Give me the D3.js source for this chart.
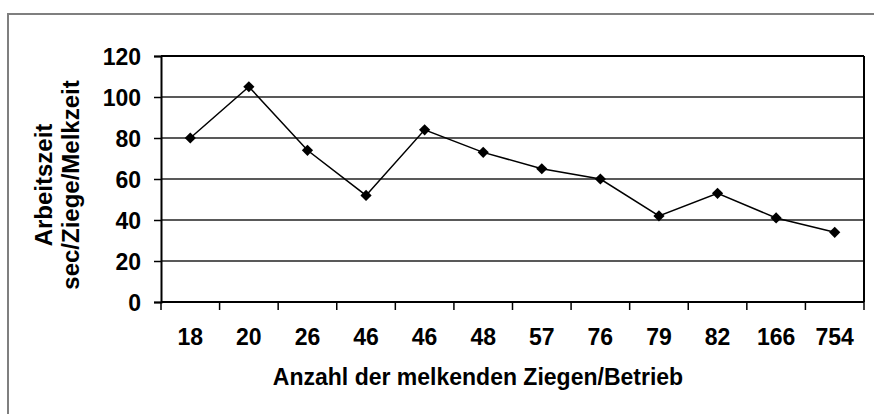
<!DOCTYPE html>
<html>
<head>
<meta charset="utf-8">
<script src="https://cdn.jsdelivr.net/npm/d3@7"></script>
<style>
  body { margin: 0; background: #fff; }
  text { font-family: "Liberation Sans", Arial, sans-serif; font-weight: bold; fill: #000; }
</style>
</head>
<body>
<div id="chart"></div>
<script>
// Chart data
var herdSizes = ["18", "20", "26", "46", "46", "48", "57", "76", "79", "82", "166", "754"];
var workTime = [80, 105, 74, 52, 84, 73, 65, 60, 42, 53, 41, 34];
var yTicks = [0, 20, 40, 60, 80, 100, 120];

var svgWidth = 874;
var svgHeight = 414;

var margins = { top: 56, right: 10, bottom: 112, left: 161 };
var plotRight = 864;

var svg = d3.select("#chart")
            .append("svg")
            .attr("width", svgWidth)
            .attr("height", svgHeight);

// Outer chart frame (only top and left edges are visible)
svg.append("rect")
   .attr("x", 8)
   .attr("y", 14)
   .attr("width", 1000)
   .attr("height", 1000)
   .attr("fill", "none")
   .attr("stroke", "#7f7f7f")
   .attr("stroke-width", 2);

var xScale = d3.scaleBand()
    .domain(d3.range(herdSizes.length))
    .range([margins.left, plotRight])
    .paddingInner(0)
    .paddingOuter(0);

var yScale = d3.scaleLinear()
    .domain([0, 120])
    .range([302, margins.top]);

// Gridlines
svg.append("g")
   .selectAll("line")
   .data(yTicks.filter(d => d > 0))
   .enter()
   .append("line")
   .attr("x1", margins.left)
   .attr("x2", plotRight)
   .attr("y1", d => yScale(d))
   .attr("y2", d => yScale(d))
   .attr("stroke", "#222")
   .attr("stroke-width", 1.5);

// Plot border on the top and right
svg.append("line")
   .attr("x1", plotRight)
   .attr("x2", plotRight)
   .attr("y1", yScale(120))
   .attr("y2", yScale(0))
   .attr("stroke", "#000")
   .attr("stroke-width", 2);

svg.append("line")
   .attr("x1", margins.left)
   .attr("x2", plotRight)
   .attr("y1", yScale(120))
   .attr("y2", yScale(120))
   .attr("stroke", "#000")
   .attr("stroke-width", 2);

// Y axis
var leftAxis = d3.axisLeft(yScale)
    .tickValues(yTicks)
    .tickSize(7)
    .tickPadding(13);

var yAxis = svg.append("g")
   .attr("transform", `translate(${margins.left},0)`)
   .call(leftAxis);

yAxis.select(".domain").attr("stroke-width", 2);
yAxis.selectAll(".tick line").attr("stroke-width", 1.5);
yAxis.selectAll("text")
     .attr("font-size", 23)
     .attr("font-family", "Liberation Sans, Arial, sans-serif")
     .attr("font-weight", "bold")
     .attr("dy", "0.36em");

// X axis: ticks between categories, labels at centres
var xAxisG = svg.append("g")
   .attr("transform", `translate(0,${yScale(0)})`);

xAxisG.append("line")
   .attr("x1", margins.left)
   .attr("x2", plotRight)
   .attr("stroke", "#000")
   .attr("stroke-width", 2);

xAxisG.selectAll(".sep")
   .data(d3.range(herdSizes.length + 1))
   .enter()
   .append("line")
   .attr("class", "sep")
   .attr("x1", d => d < herdSizes.length ? xScale(d) : plotRight)
   .attr("x2", d => d < herdSizes.length ? xScale(d) : plotRight)
   .attr("y1", 0)
   .attr("y2", 8)
   .attr("stroke", "#000")
   .attr("stroke-width", 1.5);

xAxisG.selectAll(".lbl")
   .data(herdSizes)
   .enter()
   .append("text")
   .attr("class", "lbl")
   .attr("x", (d, i) => xScale(i) + xScale.bandwidth() / 2)
   .attr("y", 43)
   .attr("text-anchor", "middle")
   .attr("font-size", 23)
   .text(d => d);

// Line
var line = d3.line()
    .x((d, i) => xScale(i) + xScale.bandwidth() / 2)
    .y(d => yScale(d));

svg.append("path")
   .datum(workTime)
   .attr("d", line)
   .attr("fill", "none")
   .attr("stroke", "#000")
   .attr("stroke-width", 1.5);

// Diamond markers
svg.append("g")
   .selectAll("path")
   .data(workTime)
   .enter()
   .append("path")
   .attr("d", d3.symbol().type(d3.symbolDiamond2).size(80))
   .attr("transform", (d, i) => `translate(${xScale(i) + xScale.bandwidth() / 2},${yScale(d)})`)
   .attr("fill", "#000");

// Axis titles
svg.append("text")
   .attr("x", 478)
   .attr("y", 385)
   .attr("text-anchor", "middle")
   .attr("font-size", 23)
   .text("Anzahl der melkenden Ziegen/Betrieb");

var yTitle = svg.append("text")
   .attr("transform", "translate(52,185) rotate(-90)")
   .attr("text-anchor", "middle")
   .attr("font-size", 24);

yTitle.append("tspan")
   .attr("x", 0)
   .attr("y", 0)
   .text("Arbeitszeit");

yTitle.append("tspan")
   .attr("x", 0)
   .attr("y", 27)
   .text("sec/Ziege/Melkzeit");
</script>
</body>
</html>
